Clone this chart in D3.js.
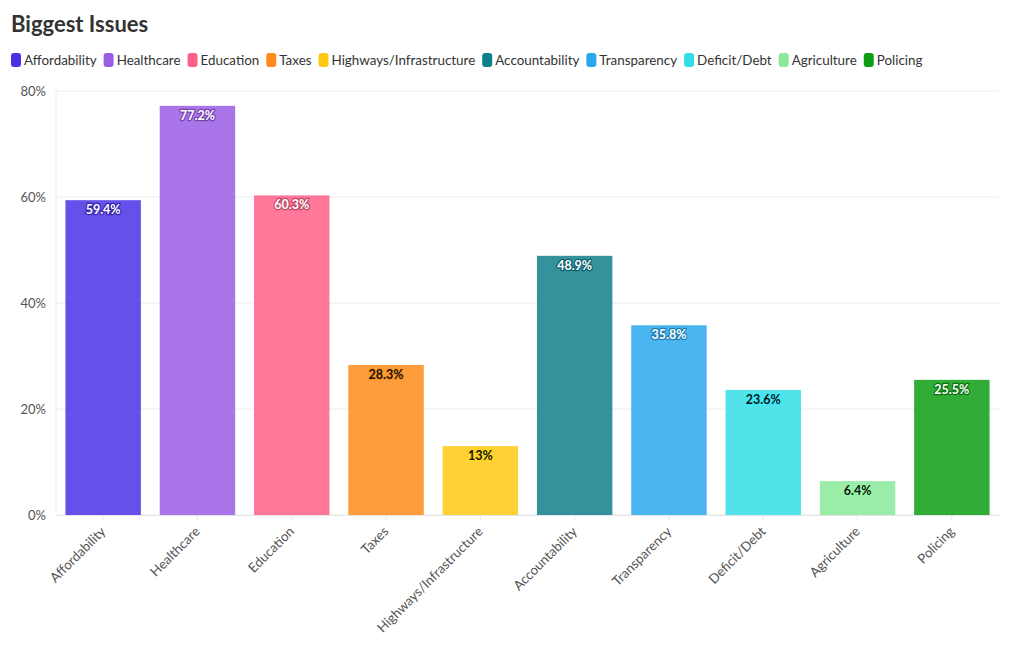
<!DOCTYPE html>
<html><head><meta charset="utf-8">
<script src="https://cdn.jsdelivr.net/npm/d3@7"></script>
<style>
body{margin:0;background:#fff;font-family:Lato,"Noto Sans",sans-serif;}
svg{display:block}
</style></head>
<body>
<svg id="chart" width="1020" height="650"></svg>
<script>
const categories = ["Affordability","Healthcare","Education","Taxes","Highways/Infrastructure","Accountability","Transparency","Deficit/Debt","Agriculture","Policing"];
const values = [59.4,77.2,60.3,28.3,13,48.9,35.8,23.6,6.4,25.5];
const valueLabels = ["59.4%","77.2%","60.3%","28.3%","13%","48.9%","35.8%","23.6%","6.4%","25.5%"];
const colors = ["#4a31e6","#9a5de4","#ff6088","#ff8b1a","#ffc913","#107f8c","#2aa7ee","#33dde6","#8ae89a","#0d9d14"];
const labelDark = [false,false,false,true,true,false,false,true,true,false];
const yTicks = [0,20,40,60,80];

const svg = d3.select("#chart");
const W = 1020, H = 650;
const m = {left:56, right:21, top:91, bottom:135};

svg.append("text").attr("x",11).attr("y",32)
  .attr("font-size",22).attr("font-weight",700).attr("fill","#333")
  .text("Biggest Issues");

// legend
const leg = svg.append("g").attr("transform","translate(11,60)");
let lx = 0;
categories.forEach((c,i)=>{
  const g = leg.append("g").attr("transform",`translate(${lx},0)`);
  g.append("rect").attr("x",0).attr("y",-7).attr("width",10).attr("height",14).attr("rx",3).attr("fill",colors[i]);
  const t = g.append("text").attr("x",13).attr("y",5).attr("font-size",13.4).attr("fill","#333").text(c);
  lx += 13 + t.node().getComputedTextLength() + 7;
});

const x = d3.scaleBand().domain(categories).range([m.left, W-m.right]).paddingInner(0.2).paddingOuter(0.1);
const y = d3.scaleLinear().domain([0,80]).range([H-m.bottom, m.top]);

// grid
svg.append("g").selectAll("line").data(yTicks).join("line")
  .attr("x1",m.left).attr("x2",W-m.right)
  .attr("y1",d=>y(d)).attr("y2",d=>y(d))
  .attr("stroke","#ececec").attr("stroke-width",1);
svg.append("line").attr("x1",m.left).attr("x2",m.left).attr("y1",m.top).attr("y2",H-m.bottom).attr("stroke","#ececec");

// y axis
const ya = svg.append("g").attr("transform",`translate(${m.left},0)`)
  .call(d3.axisLeft(y).tickValues(yTicks).tickFormat(d=>d+"%").tickSize(0).tickPadding(10));
ya.select(".domain").remove();
ya.selectAll("text").attr("font-size",13).attr("fill","#555").attr("font-family","Lato,'Noto Sans',sans-serif");

// bars
svg.append("g").selectAll("rect").data(values).join("rect")
  .attr("x",(d,i)=>x(categories[i])).attr("width",x.bandwidth())
  .attr("y",d=>y(d)).attr("height",d=>y(0)-y(d))
  .attr("fill",(d,i)=>colors[i]).attr("fill-opacity",0.85);

// x axis
const xa = svg.append("g").attr("transform",`translate(0,${y(0)})`)
  .call(d3.axisBottom(x).tickSize(5).tickSizeOuter(0).tickPadding(6));
xa.select(".domain").attr("stroke","#e6e6e6");
xa.selectAll(".tick line").attr("stroke","#e6e6e6");
xa.selectAll("text").attr("font-size",13.3).attr("fill","#555").attr("font-family","Lato,'Noto Sans',sans-serif")
  .attr("text-anchor","end").attr("dy","0.35em")
  .attr("transform","translate(0,14) rotate(-45)").attr("x",0).attr("y",0);

// value labels
svg.append("g").selectAll("text").data(values).join("text")
  .attr("x",(d,i)=>x(categories[i])+x.bandwidth()/2)
  .attr("y",d=>y(d)+14)
  .attr("text-anchor","middle").attr("font-size",12.5).attr("font-weight",700)
  .attr("paint-order","stroke")
  .attr("stroke",(d,i)=>labelDark[i]? d3.color(colors[i]).brighter(0.2) : d3.color(colors[i]).darker(0.8))
  .attr("stroke-width",2.5).attr("stroke-linejoin","round")
  .attr("fill",(d,i)=>labelDark[i]?"#111":"#fff")
  .text((d,i)=>valueLabels[i]);
</script>
</body></html>
